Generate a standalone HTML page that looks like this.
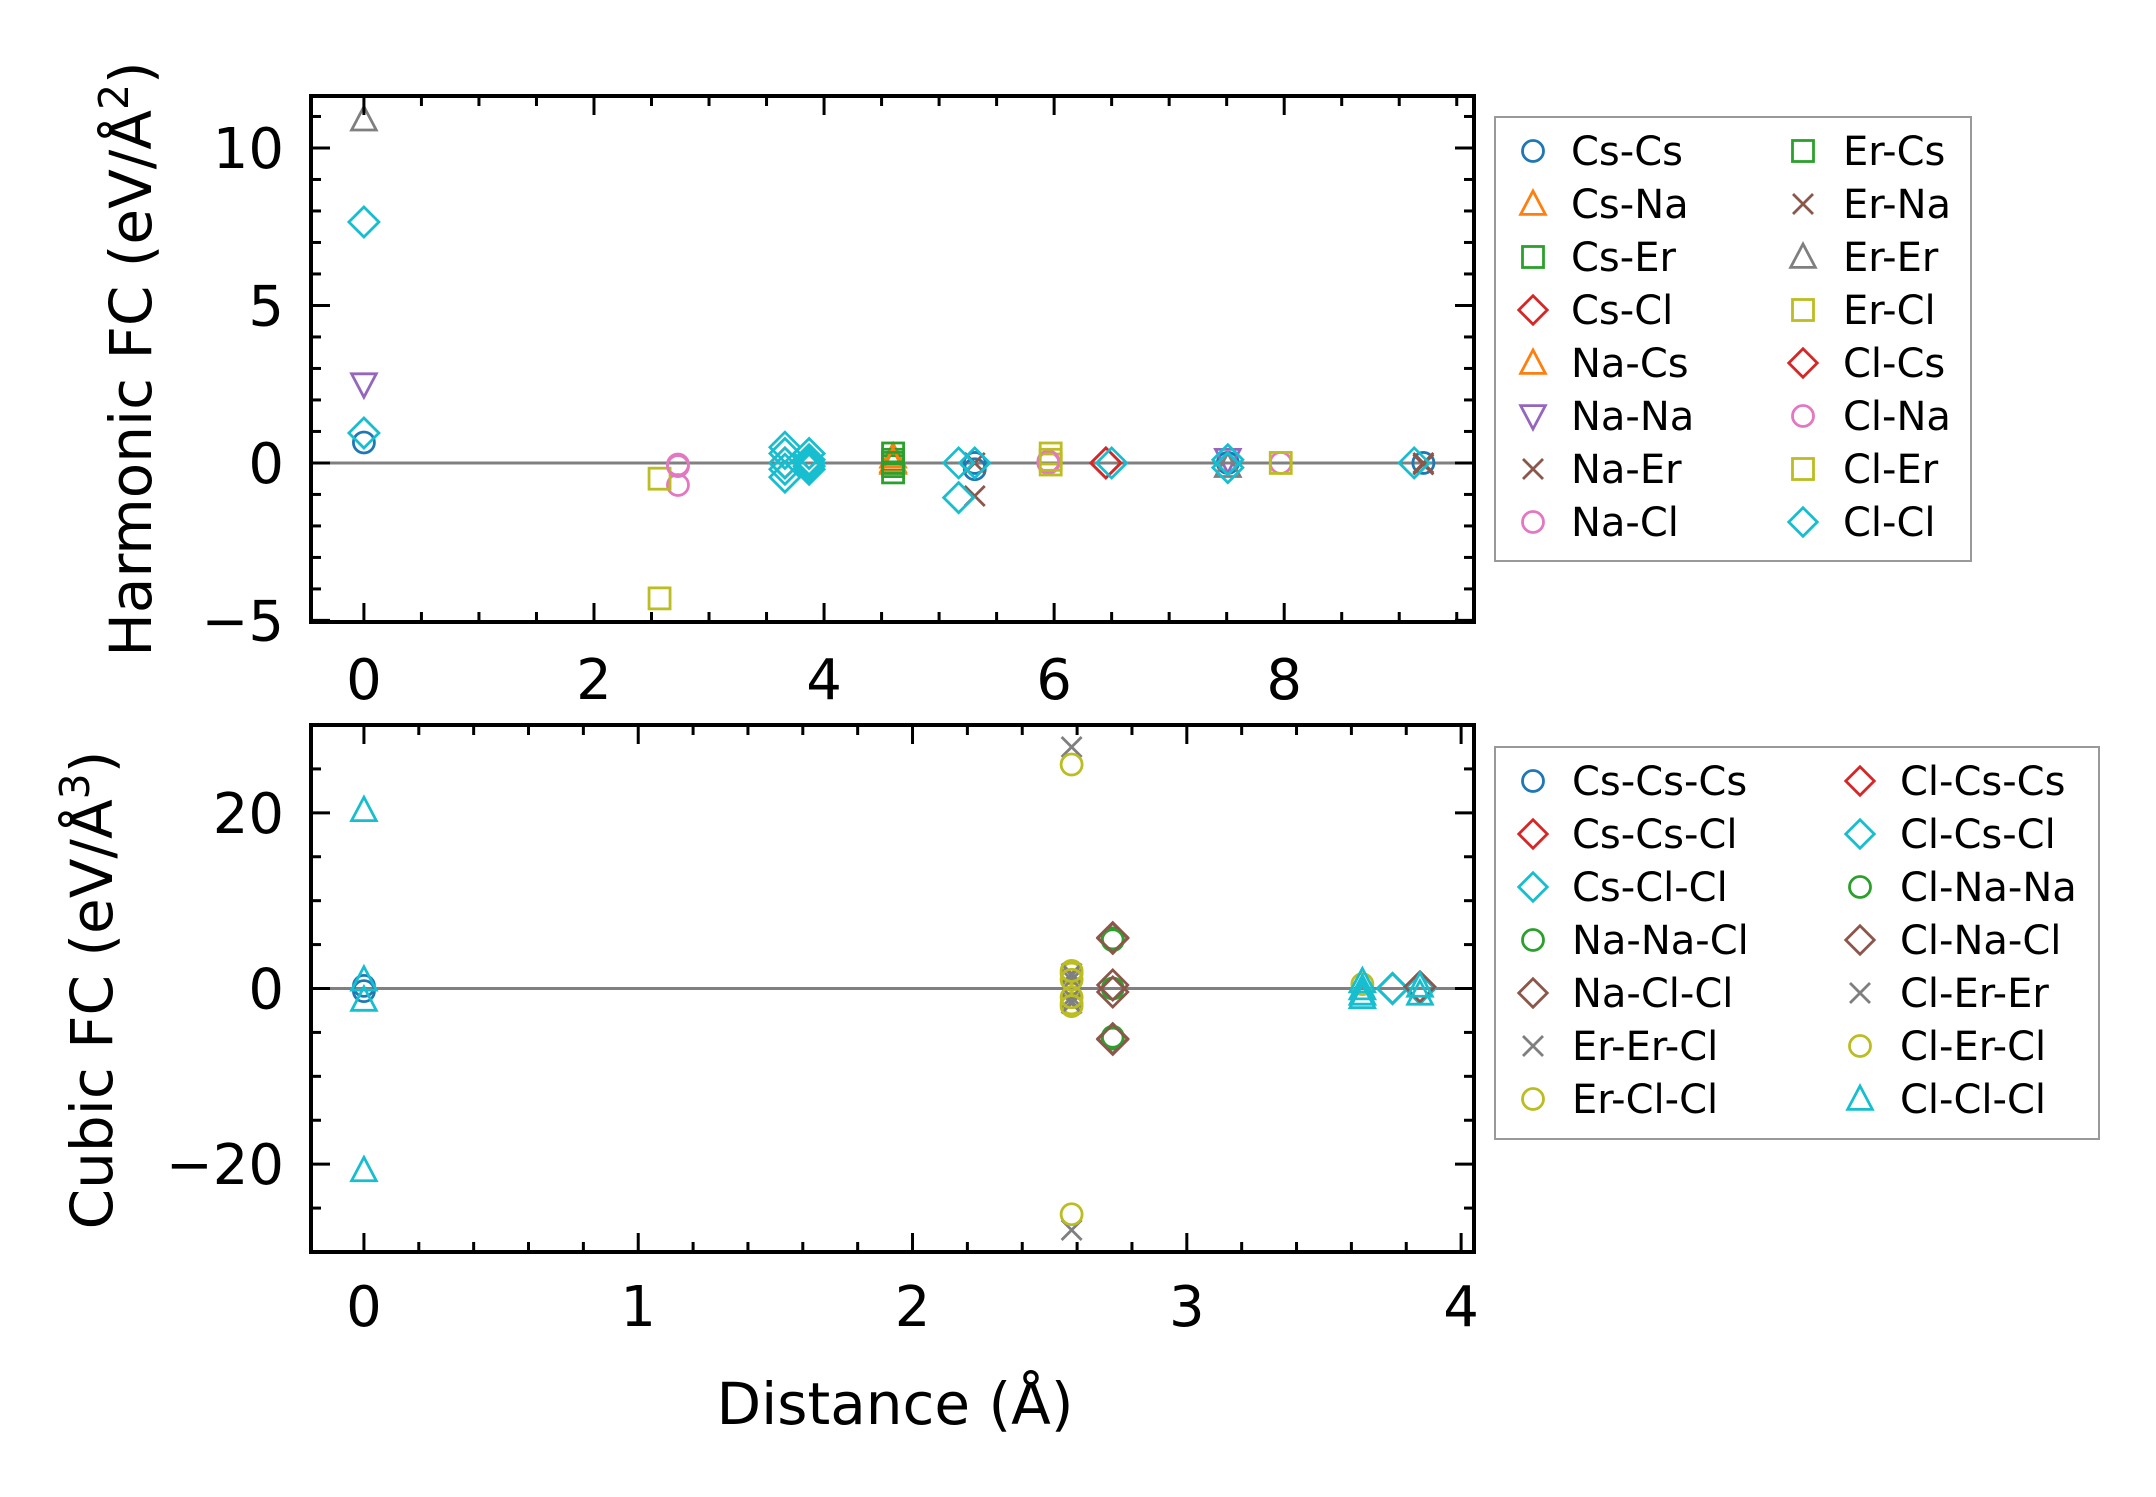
<!DOCTYPE html>
<html><head><meta charset="utf-8">
<style>
html,body{margin:0;padding:0;background:#fff;}
svg{display:block;font-family:"DejaVu Sans","Liberation Sans",sans-serif;}
</style></head>
<body>
<svg id="fig" xmlns="http://www.w3.org/2000/svg" width="2156" height="1497" viewBox="0 0 2156 1497">
<rect width="2156" height="1497" fill="#fff"/>
</svg>
<script>
// ---------- data ----------
const harmNames = ["Cs-Cs","Cs-Na","Cs-Er","Cs-Cl","Na-Cs","Na-Na","Na-Er","Na-Cl","Er-Cs","Er-Na","Er-Er","Er-Cl","Cl-Cs","Cl-Na","Cl-Er","Cl-Cl"];
const harmMarkers = ["o","^","s","D","^","v","x","o","s","x","^","s","D","o","s","D"];
const harmColors = ["#1f77b4","#ff7f0e","#2ca02c","#d62728","#ff7f0e","#9467bd","#8c564b","#e377c2","#2ca02c","#8c564b","#7f7f7f","#bcbd22","#d62728","#e377c2","#bcbd22","#17becf"];
const harmX = [
 [0,5.31,5.31,7.51,9.21],
 [4.6,4.6],
 [4.6,4.6],
 [3.87,6.45],
 [4.6],
 [0,7.51],
 [5.31,9.21],
 [2.73,2.73,5.95],
 [4.6,4.6,4.6],
 [5.31,9.21],
 [0,7.51],
 [2.57,2.57,5.97,5.97],
 [6.45,3.66],
 [2.73,5.95,7.97],
 [5.97,7.97],
 [0,0,3.66,3.66,3.66,3.66,3.66,3.87,3.87,3.87,3.87,3.87,5.17,5.17,5.31,6.5,7.51,7.51,9.13]
];
const harmY = [
 [0.65,0,-0.2,0,0],
 [0.2,0],
 [0.1,-0.1],
 [0,0],
 [0.05],
 [2.5,0.1],
 [0,-0.05],
 [-0.05,-0.7,0],
 [0.3,0,-0.3],
 [-1.05,0],
 [10.9,-0.1],
 [-0.5,-4.3,0.3,-0.05],
 [0,0],
 [-0.1,0.05,0],
 [0.1,0],
 [7.65,0.95,0.5,0.3,0,-0.2,-0.45,0.3,0.1,0,-0.1,-0.2,0,-1.1,0,0,0.1,-0.15,0]
];
const harmXTicks = [0,2,4,6,8];
const harmYTicks = [-5,0,5,10];

const cubNames = ["Cs-Cs-Cs","Cs-Cs-Cl","Cs-Cl-Cl","Na-Na-Cl","Na-Cl-Cl","Er-Er-Cl","Er-Cl-Cl","Cl-Cs-Cs","Cl-Cs-Cl","Cl-Na-Na","Cl-Na-Cl","Cl-Er-Er","Cl-Er-Cl","Cl-Cl-Cl"];
const cubMarkers = ["o","D","D","o","D","x","o","D","D","o","D","x","o","^"];
const cubColors = ["#1f77b4","#d62728","#17becf","#2ca02c","#8c564b","#7f7f7f","#bcbd22","#d62728","#17becf","#2ca02c","#8c564b","#7f7f7f","#bcbd22","#17becf"];
const cubX = [
 [0,0],
 [3.75],
 [3.75],
 [2.73,2.73,2.73],
 [2.73,2.73,3.85],
 [2.58,2.58,2.58,2.58],
 [2.58,2.58,2.58,2.58,3.64],
 [3.85],
 [3.75,3.85],
 [2.73,2.73],
 [2.73,2.73,2.73,2.73,3.85],
 [2.58,2.58,2.58,2.58],
 [2.58,2.58,2.58,2.58],
 [0,0,0,0,3.64,3.64,3.64,3.64,3.85,3.85]
];
const cubY = [
 [0.3,-0.3],
 [0],
 [0],
 [5.7,0,-5.7],
 [5.7,-5.7,0],
 [27.5,-27.5,1.5,-1.5],
 [25.5,-25.7,1.7,-1.7,0.5],
 [0],
 [0,0],
 [5.5,-5.5],
 [5.8,0.4,-0.4,-5.8,0.2],
 [1.0,-1.0,1.7,-1.7],
 [1.0,-1.0,2.0,-2.0],
 [20.3,-20.7,1.0,-1.3,0.8,0,-0.6,-1.0,0.3,-0.6]
];
const cubXTicks = [0,1,2,3,4];
const cubYTicks = [-20,0,20];

// ---------- helpers ----------
const NS = "http://www.w3.org/2000/svg";
const svg = document.getElementById("fig");
function el(tag, attrs, parent) {
  const e = document.createElementNS(NS, tag);
  for (const k in attrs) e.setAttribute(k, attrs[k]);
  (parent || svg).appendChild(e);
  return e;
}
function marker(g, type, cx, cy, color, s) {
  let m;
  const sw = 2.8;
  if (type === "o") {
    m = el("circle", {cx: cx, cy: cy, r: 10.5*s, fill: "none", stroke: color, "stroke-width": sw}, g);
  } else if (type === "s") {
    const h = 10.5*s;
    m = el("rect", {x: cx-h, y: cy-h, width: 2*h, height: 2*h, fill: "none", stroke: color, "stroke-width": sw}, g);
  } else if (type === "D") {
    const h = 15*s;
    m = el("polygon", {points: `${cx},${cy-h} ${cx+h},${cy} ${cx},${cy+h} ${cx-h},${cy}`, fill: "none", stroke: color, "stroke-width": sw}, g);
  } else if (type === "^") {
    const h = 13*s;
    m = el("polygon", {points: `${cx},${cy-h} ${cx+h*0.95},${cy+h*0.8} ${cx-h*0.95},${cy+h*0.8}`, fill: "none", stroke: color, "stroke-width": sw}, g);
  } else if (type === "v") {
    const h = 13*s;
    m = el("polygon", {points: `${cx},${cy+h} ${cx+h*0.95},${cy-h*0.8} ${cx-h*0.95},${cy-h*0.8}`, fill: "none", stroke: color, "stroke-width": sw}, g);
  } else {
    const h = 10*s;
    m = el("path", {d: `M${cx-h},${cy-h}L${cx+h},${cy+h}M${cx-h},${cy+h}L${cx+h},${cy-h}`, fill: "none", stroke: color, "stroke-width": sw}, g);
  }
  return m;
}

function panel(cfg) {
  const {L, R, T, B, xmin, xmax, ymin, ymax, xticks, yticks, xminor, yminor, names, markers, colors, X, Y, id} = cfg;
  const sx = v => L + (v - xmin) / (xmax - xmin) * (R - L);
  const sy = v => B - (v - ymin) / (ymax - ymin) * (B - T);
  const g = el("g", {});
  
  
  const zl = el("line", {x1: L, x2: R, y1: sy(0), y2: sy(0), stroke: "#808080", "stroke-width": 3}, g);
  
  
  for (let i = 0; i < names.length; i++) {
    const sg = el("g", {}, g);
    
    
    for (let j = 0; j < X[i].length; j++) {
      const m = marker(sg, markers[i], sx(X[i][j]), sy(Y[i][j]), colors[i], 1);
      
      
    }
  }
  const tg = el("g", {stroke: "#000", "stroke-width": 3});
  
  
  const maj = 19, mnr = 10;
  for (let v = Math.ceil(xmin / xminor) * xminor; v <= xmax + 1e-9; v += xminor) {
    const isMaj = xticks.some(t => Math.abs(t - v) < 1e-6);
    const len = isMaj ? maj : mnr, x = sx(v);
    el("line", {x1: x, x2: x, y1: B, y2: B - len}, tg);
    el("line", {x1: x, x2: x, y1: T, y2: T + len}, tg);
  }
  for (let v = Math.ceil(ymin / yminor) * yminor; v <= ymax + 1e-9; v += yminor) {
    const isMaj = yticks.some(t => Math.abs(t - v) < 1e-6);
    const len = isMaj ? maj : mnr, y = sy(v);
    el("line", {x1: L, x2: L + len, y1: y, y2: y}, tg);
    el("line", {x1: R, x2: R - len, y1: y, y2: y}, tg);
  }
  const fr = el("rect", {x: L, y: T, width: R - L, height: B - T, fill: "none", stroke: "#000", "stroke-width": 4});
  
  
  xticks.forEach(t => {
    const tx = el("text", {x: sx(t), y: cfg.xlabY, "font-size": 56, "text-anchor": "middle"});
    tx.textContent = String(t).replace("-", "\u2212");
    
    
  });
  yticks.forEach(t => {
    const tx = el("text", {x: 284, y: sy(t) + 20, "font-size": 56, "text-anchor": "end"});
    tx.textContent = String(t).replace("-", "\u2212");
    
    
  });
}

function legend(cfg) {
  const {x, y, w, h, names, markers, colors, rows, mx1, tx1, mx2, tx2, row0, dy, id} = cfg;
  const g = el("g", {});
  
  
  el("rect", {x: x, y: y, width: w, height: h, fill: "#fff", stroke: "#999", "stroke-width": 2}, g);
  names.forEach((n, i) => {
    const col = Math.floor(i / rows), r = i % rows;
    const cy = row0 + r * dy;
    const eg = el("g", {}, g);
    
    
    marker(eg, markers[i], col ? mx2 : mx1, cy, colors[i], markers[i] === "D" ? 0.95 : 1);
    const t = el("text", {x: col ? tx2 : tx1, y: cy + 14, "font-size": 40}, eg);
    t.textContent = n;
  });
}

panel({id: "harmonic", L: 311, R: 1474, T: 96, B: 622, xmin: -0.46, xmax: 9.65, ymin: -5.05, ymax: 11.65,
  xticks: harmXTicks, yticks: harmYTicks, xminor: 0.5, yminor: 1, xlabY: 699,
  names: harmNames, markers: harmMarkers, colors: harmColors, X: harmX, Y: harmY});
panel({id: "cubic", L: 311, R: 1474, T: 725, B: 1252, xmin: -0.193, xmax: 4.047, ymin: -30, ymax: 30,
  xticks: cubXTicks, yticks: cubYTicks, xminor: 0.2, yminor: 5, xlabY: 1326,
  names: cubNames, markers: cubMarkers, colors: cubColors, X: cubX, Y: cubY});

legend({id: "harmonic-legend", x: 1495, y: 117, w: 476, h: 444, names: harmNames, markers: harmMarkers, colors: harmColors,
  rows: 8, mx1: 1533, tx1: 1571, mx2: 1803, tx2: 1843, row0: 151, dy: 53});
legend({id: "cubic-legend", x: 1495, y: 747, w: 604, h: 392, names: cubNames, markers: cubMarkers, colors: cubColors,
  rows: 7, mx1: 1533, tx1: 1572, mx2: 1860, tx2: 1900, row0: 781, dy: 53});
</script>
<svg style="position:absolute;left:0;top:0" width="2156" height="1497">
  <text font-family="DejaVu Sans, Liberation Sans, sans-serif" font-size="58" text-anchor="middle" transform="translate(151,359) rotate(-90)">Harmonic FC (eV/Å<tspan font-size="41" dy="-23">2</tspan><tspan dy="23">)</tspan></text>
  <text font-family="DejaVu Sans, Liberation Sans, sans-serif" font-size="58" text-anchor="middle" transform="translate(112,990) rotate(-90)">Cubic FC (eV/Å<tspan font-size="41" dy="-23">3</tspan><tspan dy="23">)</tspan></text>
  <text font-family="DejaVu Sans, Liberation Sans, sans-serif" font-size="58" text-anchor="middle" x="895" y="1424">Distance (Å)</text>
</svg>
</body></html>
